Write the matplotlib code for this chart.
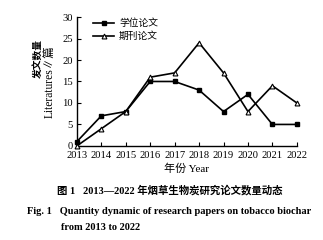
import matplotlib
matplotlib.use("Agg")
import matplotlib.pyplot as plt

years = [2013, 2014, 2015, 2016, 2017, 2018, 2019, 2020, 2021, 2022]
thesis = [1, 7, 8, 15, 15, 13, 8, 12, 5, 5]
journal = [0, 4, 8, 16, 17, 24, 17, 8, 14, 10]
series_names = ["学位论文", "期刊论文"]
yticks = [0, 5, 10, 15, 20, 25, 30]

serif = ["Liberation Serif", "DejaVu Serif"]
cjk = ["Noto Sans CJK SC", "DejaVu Sans"]
mixed = ["Liberation Serif", "Noto Sans CJK SC"]

fig = plt.figure(figsize=(3.23, 2.40), dpi=100)
ax = fig.add_axes([0.238, 0.392, 0.681, 0.537])

ax.plot(years, thesis, color="black", lw=1.2, marker="s", ms=3.5,
        mfc="black", mec="black", label=series_names[0], clip_on=False, zorder=3)
ax.plot(years, journal, color="black", lw=1.2, marker="^", ms=3.5,
        mfc="white", mec="black", mew=0.8, label=series_names[1], clip_on=False, zorder=3)

ax.set_xlim(2013, 2022)
ax.set_ylim(0, 30)
ax.set_xticks(years)
ax.set_yticks(yticks)
for s in ["top", "right"]:
    ax.spines[s].set_visible(False)
for s in ["left", "bottom"]:
    ax.spines[s].set_linewidth(1.0)
ax.tick_params(direction="in", length=3, width=0.8, labelsize=7.6)
ax.tick_params(axis="x", pad=4)
ax.tick_params(axis="y", pad=3)
for lab in ax.get_xticklabels() + ax.get_yticklabels():
    lab.set_family(serif)

ax.set_xlabel("年份 Year", family=mixed, fontsize=8, labelpad=2)
fig.text(0.118, 0.755, "发文数量", rotation=90, family=cjk, fontsize=7,
         fontweight="bold", ha="center", va="center")
fig.text(0.155, 0.66, "Literatures∥篇", rotation=90, family=mixed, fontsize=8.3,
         ha="center", va="center")

leg = ax.legend(loc="upper left", bbox_to_anchor=(0.055, 1.02), frameon=False,
                prop={"family": cjk, "size": 7}, handlelength=2.2,
                handletextpad=0.5, labelspacing=0.3, borderaxespad=0)

fig.text(0.526, 0.208, "图 1   2013—2022 年烟草生物炭研究论文数量动态",
         family=["Liberation Serif", "Noto Sans CJK SC"], fontsize=7.5,
         fontweight="bold", ha="center", va="center")
fig.text(0.083, 0.12, "Fig. 1   Quantity dynamic of research papers on tobacco biochar",
         family=serif, fontsize=7.5, fontweight="bold", ha="left", va="center")
fig.text(0.19, 0.05, "from 2013 to 2022",
         family=serif, fontsize=7.5, fontweight="bold", ha="left", va="center")

fig.savefig("out.png", dpi=100)
